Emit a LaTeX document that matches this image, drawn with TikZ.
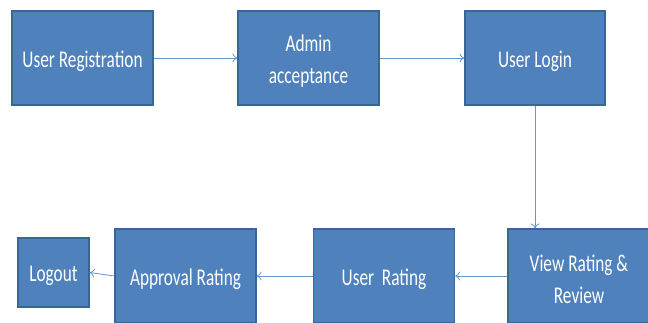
\documentclass[tikz,border=0pt]{standalone}
\usepackage{fontspec}
\newfontfamily\boxfont[FakeStretch=0.72]{Carlito}
\usetikzlibrary{arrows.meta}
\definecolor{boxfill}{HTML}{4F81BD}
\definecolor{boxline}{HTML}{3A6597}
\definecolor{arrowc}{HTML}{6A95CB}
\tikzset{
  stepbox/.style={draw=boxline, line width=1.2pt, fill=boxfill, inner sep=0pt,
    label={[text=white, align=center, inner sep=0pt, yshift=-3pt,
      font=\boxfont\fontsize{24}{32}\selectfont]center:#1}},
  flow/.style={draw=arrowc, line width=0.8pt, -{To[length=5pt,width=9pt]}}
}
\begin{document}
\begin{tikzpicture}[x=1pt,y=-1pt]
\useasboundingbox (0,0) rectangle (648,322);
\begin{scope}
\clip (0,0) rectangle (648,322);
\node[stepbox={User Registration}, minimum width=141pt, minimum height=94pt] (b1) at (82.5,58) {};
\node[stepbox={Admin\\acceptance}, minimum width=141pt, minimum height=94pt] (b2) at (308.5,58) {};
\node[stepbox={User Login}, minimum width=140pt, minimum height=94pt] (b3) at (535,58) {};
\node[stepbox={View Rating \&\\Review}, minimum width=142pt, minimum height=94pt] (b4) at (579,276) {};
\node[stepbox={User\ \ Rating}, minimum width=141pt, minimum height=94pt] (b5) at (384,276) {};
\node[stepbox={Approval Rating}, minimum width=141pt, minimum height=94pt] (b6) at (185.5,276) {};
\node[stepbox={Logout}, minimum width=71pt, minimum height=69pt] (b7) at (53.5,272.5) {};
\draw[flow] (b1.east) -- (b2.west);
\draw[flow] (b2.east) -- (b3.west);
\draw[flow] (b3.south) -- (b3.south |- b4.north);
\draw[flow] (b4.west) -- (b5.east);
\draw[flow] (b5.west) -- (b6.east);
\draw[flow] (b6.west) -- (b7.east);
\end{scope}
\end{tikzpicture}
\end{document}
